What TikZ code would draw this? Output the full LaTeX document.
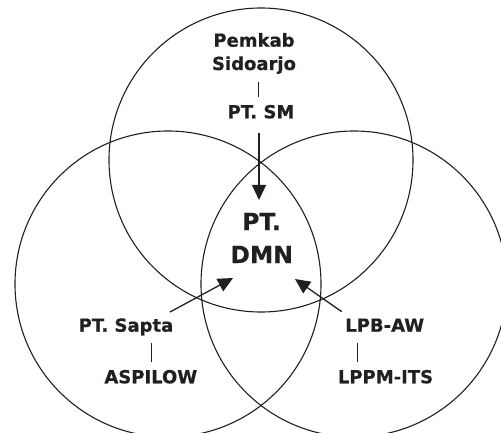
\documentclass[tikz,border=0pt]{standalone}
\usepackage{fontspec}
\setmainfont{DejaVu Sans}
\newfontfamily\heavy[FakeBold=0.6]{DejaVu Sans Bold}
\usetikzlibrary{arrows.meta}
\definecolor{ink}{RGB}{35,31,32}
\begin{document}
\begin{tikzpicture}[x=1pt,y=-1pt,
  ring/.style={draw=ink,line width=1.1pt},
  lbl/.style={anchor=base,inner sep=0pt,text=ink,font=\fontsize{18}{20}\heavy},
  big/.style={anchor=base,inner sep=0pt,text=ink,font=\fontsize{23.5}{26}\heavy},
  arr/.style={draw=ink,line width=1.3pt,-{Triangle[length=15pt,width=14pt]}},
  tie/.style={draw=ink,line width=1.1pt}]
\clip (0,0) rectangle (501,433);
\fill[white] (0,0) rectangle (501,433);
% circles
\draw[ring] (261,160) circle[radius=152];
\draw[ring] (168,284) circle[radius=153];
\draw[ring] (354,284) circle[radius=153];
% labels
\node[lbl] (pem) at (254,46.7) {Pemkab};
\node[lbl] (sid) at (254,70) {Sidoarjo};
\node[lbl] (sm) at (261,118.3) {PT. SM};
\node[big] (dmn1) at (261.5,230) {PT.};
\node[big] (dmn2) at (261.7,263) {DMN};
\node[lbl] (sapta) at (126,331.7) {PT. Sapta};
\node[lbl] (asp) at (150.8,383.3) {ASPILOW};
\node[lbl] (lpb) at (384.7,331.7) {LPB-AW};
\node[lbl] (lppm) at (385.5,383.3) {LPPM-ITS};
% ties
\draw[tie] ([shift={(4.7,12)}]sid.base) -- ([shift={(-2.3,-21)}]sm.base);
\draw[tie] ([shift={(25.7,11.3)}]sapta.base) -- ([shift={(0.9,-21.6)}]asp.base);
\draw[tie] ([shift={(-27,11.3)}]lpb.base) -- ([shift={(-27.8,-21.6)}]lppm.base);
% arrows
\draw[arr] ([shift={(-2,14.7)}]sm.base) -- ([shift={(-2.5,-30)}]dmn1.base);
\draw[arr] ([shift={(44,-19.7)}]sapta.base) -- ([shift={(-28.7,15)}]dmn2.base);
\draw[arr] ([shift={(-43,-20)}]lpb.base) -- ([shift={(33.3,16)}]dmn2.base);
\end{tikzpicture}
\end{document}
